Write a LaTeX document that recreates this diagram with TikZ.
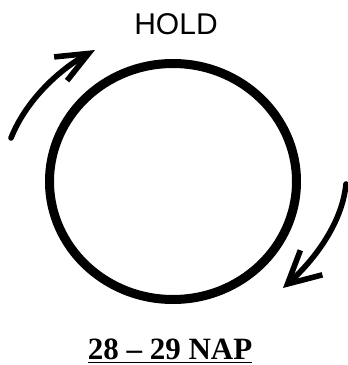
\documentclass[tikz,border=0pt]{standalone}
\usepackage{fontspec}
\setmainfont{Liberation Serif}
\newfontfamily\holdfont{Liberation Sans}
\usetikzlibrary{arrows.meta}

\begin{document}
\begin{tikzpicture}[x=1pt,y=-1pt,
  turn/.style={line width=5.6pt,line cap=round}]
  \useasboundingbox (0,0) rectangle (348,365);
  \draw[line width=9pt] (173,181.5) ellipse [x radius=123.5,y radius=118];
  \node[font=\holdfont\fontsize{30}{30}\selectfont] (hold) at (176,24) {HOLD};
  \draw[turn,-{Straight Barb[length=32pt,width=27pt]}] (11,138) .. controls (27,98) and (62,68) .. (95,50);
  \draw[turn,-{Straight Barb[length=32pt,width=33pt]}] (346,184) .. controls (342,225) and (312,262) .. (283,288);
  \node[font=\bfseries\fontsize{31}{31}\selectfont,anchor=base,inner sep=0pt] (date) at (170,359) {28 -- 29 NAP};
  \draw[line width=1.8pt] ([yshift=-3.5pt]date.base west) -- ([yshift=-3.5pt]date.base east);
\end{tikzpicture}
\end{document}
